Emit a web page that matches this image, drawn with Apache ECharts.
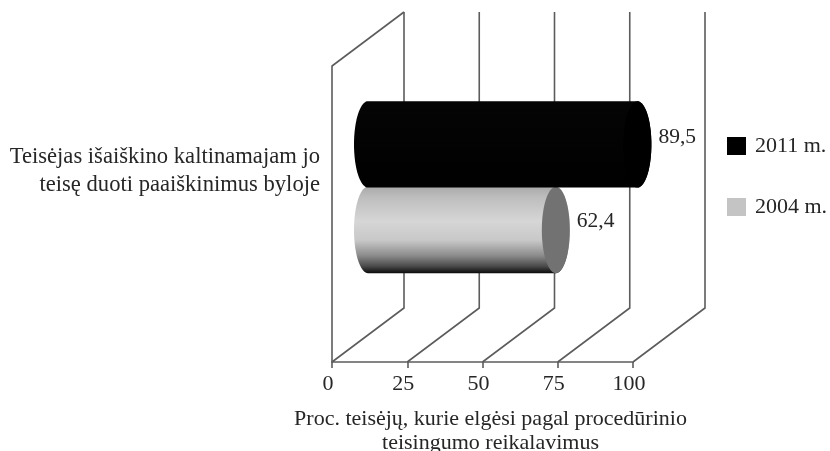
<!DOCTYPE html>
<html><head><meta charset="utf-8">
<style>html,body{margin:0;padding:0;background:#fff}#c{width:830px;height:451px}</style>
<script src="https://cdn.jsdelivr.net/npm/echarts@6/dist/echarts.min.js"></script>
</head><body><div id="c"></div>
<script>
const categories = ['Teisėjas išaiškino kaltinamajam jo\nteisę duoti paaiškinimus byloje'];
const seriesNames = ['2011 m.', '2004 m.'];
const values2011 = [89.5];
const values2004 = [62.4];
const gridTicks = [0, 25, 50, 75, 100];
const axisTitle = 'Proc. teisėjų, kurie elgėsi pagal procedūrinio\nteisingumo reikalavimus';

const DX = 72, DY = 54, RX = 14;
const FONT = '"Liberation Serif", "Times New Roman", serif';
const LINE = '#5c5c5c';
const TEXT = '#262626';

function wall(params, api) {
  const v = api.value(0);
  const x = api.coord([v, 0])[0];
  const cs = params.coordSys;
  const bottom = cs.y + cs.height, top = cs.y;
  const style = { stroke: LINE, lineWidth: 1.6, fill: null };
  const pts = [[x, bottom], [x + DX, bottom - DY], [x + DX, top - DY]];
  const children = [{ type: 'polyline', shape: { points: pts }, style }];
  if (v === gridTicks[0]) {
    children.push({ type: 'polyline', shape: { points: [[x, top], [x + DX, top - DY]] }, style });
  }
  return { type: 'group', children };
}

function cylinder(offset, fill, capFill, labelDy) {
  return function (params, api) {
    const v = api.value(0);
    const p = api.coord([v, 0]);
    const start = api.coord([0, 0])[0] + DX / 2;
    const band = api.size([0, 1])[1];
    const ry = band * 0.146;
    const cx = p[0] + DX / 2;
    const cy = p[1] - DY / 2 + band * offset;
    const pts = [];
    for (let a = -90; a <= 90; a += 5) {
      const r = a * Math.PI / 180;
      pts.push([cx + RX * Math.cos(r), cy + ry * Math.sin(r)]);
    }
    for (let a = 90; a <= 270; a += 5) {
      const r = a * Math.PI / 180;
      pts.push([start + RX * Math.cos(r), cy + ry * Math.sin(r)]);
    }
    return { type: 'group', children: [
      { type: 'polygon', shape: { points: pts }, style: { fill } },
      { type: 'ellipse', shape: { cx, cy, rx: RX, ry }, style: { fill: capFill } },
      { type: 'text', style: {
          x: cx + RX + 7, y: cy + labelDy, text: String(v).replace('.', ','),
          font: '21.5px ' + FONT, fill: TEXT, textVerticalAlign: 'middle'
      } }
    ] };
  };
}

const G = (stops) => new echarts.graphic.LinearGradient(0, 0, 0, 1, stops.map(([offset, color]) => ({ offset, color })));

const chart = echarts.init(document.getElementById('c'), null, { renderer: 'canvas' });
chart.setOption({
  animation: false,
  textStyle: { fontFamily: FONT },
  grid: { left: 332, right: 197, top: 66, bottom: 89, containLabel: false, outerBoundsMode: 'none' },
  legend: {
    orient: 'vertical', left: 727, top: 135, padding: 0, icon: 'rect',
    itemWidth: 19, itemHeight: 18, itemGap: 39,
    selectedMode: false, data: seriesNames,
    textStyle: { fontFamily: FONT, fontSize: 22, color: TEXT, padding: [0, 0, 0, 4] }
  },
  xAxis: {
    type: 'value', min: 0, max: 100, interval: 25,
    splitLine: { show: false },
    axisLine: { show: true, lineStyle: { color: LINE, width: 1.6 } },
    axisTick: { show: true, length: 6, lineStyle: { color: LINE, width: 1.6 } },
    axisLabel: { fontFamily: FONT, fontSize: 22, color: TEXT, margin: 11, padding: [0, 8, 0, 0], formatter: v => String(v) },
    name: axisTitle, nameLocation: 'middle', nameGap: 45,
    nameTextStyle: { fontFamily: FONT, fontSize: 22, color: TEXT, lineHeight: 24, padding: [0, 0, 0, 16] }
  },
  yAxis: {
    type: 'category', data: categories,
    axisLine: { show: true, lineStyle: { color: LINE, width: 1.6 } },
    axisTick: { show: false },
    axisLabel: { fontFamily: FONT, fontSize: 22.6, color: TEXT, align: 'right', verticalAlign: 'bottom', margin: 12, lineHeight: 28, padding: [0, 0, 15, 0] }
  },
  series: [
    { type: 'custom', name: 'walls', silent: true, z: 1, renderItem: wall,
      encode: { x: 0 }, data: gridTicks.map(t => [t]), clip: false },
    { type: 'custom', name: seriesNames[1], z: 2, clip: false, itemStyle: { color: '#c4c4c4' },
      encode: { x: 0 }, data: values2004.map(v => [v]),
      renderItem: cylinder(0.145,
        G([[0, '#a9a9a9'], [0.12, '#bdbdbd'], [0.4, '#d6d6d6'], [0.62, '#c8c8c8'], [0.8, '#8a8a8a'], [0.92, '#4a4a4a'], [1, '#0c0c0c']]),
        '#727272', -9) },
    { type: 'custom', name: seriesNames[0], z: 3, clip: false, itemStyle: { color: '#000000' },
      encode: { x: 0 }, data: values2011.map(v => [v]),
      renderItem: cylinder(-0.144,
        G([[0, '#050505'], [1, '#000000']]), '#000000', -7.5) }
  ]
});
</script></body></html>
